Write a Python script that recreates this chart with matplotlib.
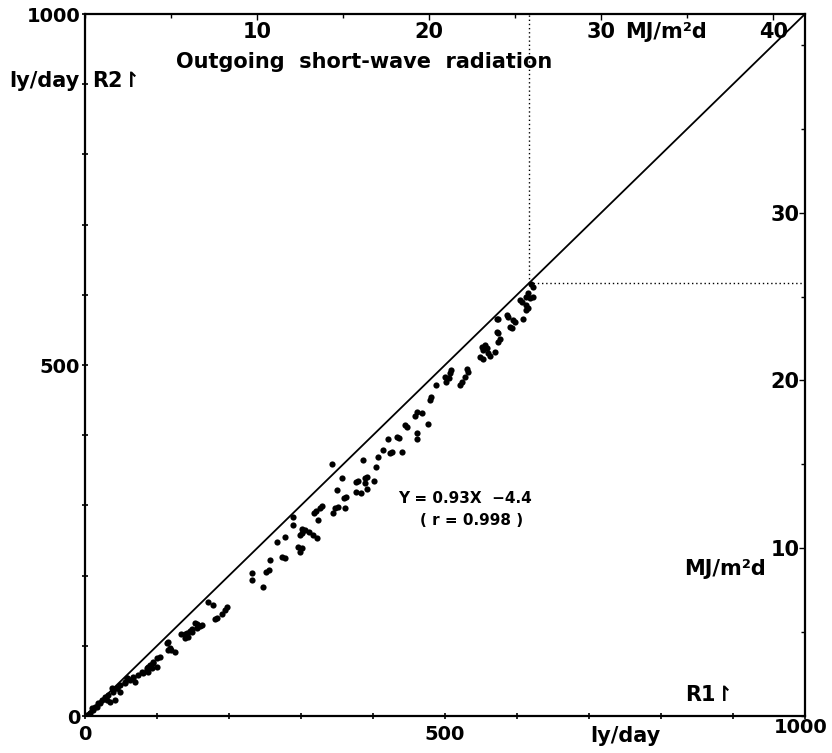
"""
Outgoing short-wave radiation: R2 against R1 (ly/day), with MJ/m2d scales
"""
import numpy as np
import matplotlib.pyplot as plt
from matplotlib.transforms import ScaledTranslation

LY_TO_MJ = 0.04184  # 1 ly/day = 0.04184 MJ/m2d

# R1 (x) and R2 (y) daily totals, ly/day
r1 = [7, 11.5, 14, 18.5, 23, 28, 32, 37, 39, 44, 48.6, 55.6, 58, 62.5, 67, 74, 78.7,
      85.6, 88, 90, 92.6, 95, 99.6, 104, 113.5, 115.7, 118, 125,
      139, 141, 143.5, 148, 152.8, 155, 162, 171, 178, 180.6, 183, 190, 194.4, 196.8,
      134, 139, 146, 148, 155, 160, 115.7, 120, 95, 99.6, 85.6, 88, 81,
      58, 55.6, 67, 69.4, 44, 39.4, 48.6, 41.7, 20.8, 30, 34.7, 16, 9.3, 3,
      231.5, 231.5, 247.7, 252, 256, 257, 266, 273, 278, 278,
      289, 289, 296, 298.6, 298.6, 301, 301, 302, 305.6, 311.5, 317, 318, 321.8,
      324, 320.8, 326, 328.7, 345, 347, 349.5, 352, 356.5, 360, 361, 362,
      342.6, 376, 377, 379.6, 384, 385.6, 389, 389, 391, 391, 401, 404, 406.5,
      414, 421, 423.6, 427, 433, 436, 440, 444, 446.8, 458, 460.6, 460.6, 460.6,
      467.6, 476.8, 479, 481, 488, 500, 502, 506, 507, 509, 521, 523, 528, 530, 532,
      548.6, 551, 553, 553, 555.6, 558.8, 560, 562.5, 569, 572, 574, 574, 576,
      572, 574, 585.6, 588, 590, 592.6, 595, 597, 604, 606.5, 609, 612.5, 613,
      613, 615.7, 615.7, 618, 620, 621.8, 622]
r2 = [3.8, 8.5, 13, 18, 22.8, 27.5, 30, 39.5, 37, 39.5, 44, 46.6, 53.6, 51, 56, 58, 63,
      65.5, 70, 72.6, 68, 77, 82, 84.5, 103.4, 94, 96.4, 91.6,
      110.7, 117.7, 113, 120, 132, 125, 129.6, 163, 158, 137.6, 139, 146, 151, 155.7,
      117, 117, 121, 123.5, 130.6, 128, 106, 94, 75, 70, 68, 63, 60.7,
      53.7, 48.9, 53.7, 48.9, 39.5, 34.6, 34.6, 22.8, 18, 22.8, 20.4, 13, 11.4, 1.5,
      203, 194, 184, 205.6, 208, 222, 248, 227, 255, 224.6,
      284, 272, 241, 257.8, 234, 267, 239, 260, 265, 262.5, 257.8, 288.7, 254,
      279, 292.5, 297, 299, 288.7, 296, 322, 298, 338.6, 310, 297, 311.5,
      359, 333.8, 319.5, 335, 317, 364.7, 338.6, 331.6, 341, 324, 335, 354, 369,
      379, 394, 375, 376.6, 397, 395.6, 376.6, 414.5, 412, 427, 433.5, 403.6, 394,
      431, 415.5, 450, 455, 471.5, 483, 476, 481, 488, 493, 471.5, 476, 483, 495, 490,
      512, 526, 509, 521, 528.5, 524, 517, 513, 519, 547, 545, 533, 536.6,
      565, 566, 571, 569, 554.6, 552, 564, 561.7, 592.6, 590, 566, 578, 597,
      585, 602, 580.6, 595, 616, 597, 611.5]

# regression and the marked maximum
fit_text = "Y = 0.93X  \u22124.4"
r_text = "( r = 0.998 )"
r_max = 617

ly_ticks = [0, 500, 1000]
mj_top_ticks = [10, 20, 30, 40]
mj_right_ticks = [10, 20, 30]

plt.rcParams['font.family'] = ['DejaVu Sans']
fig = plt.figure(figsize=(8.32, 7.53), dpi=100)
ax = fig.add_axes([85 / 832, 37 / 753, 720 / 832, 702 / 753])

ax.plot([0, 1000], [0, 1000], color='black', lw=1.3)
ax.scatter(r1, r2, s=20, color='black', lw=0, zorder=3)
ax.plot([r_max, r_max], [r_max, 1000], color='black', lw=1.0, ls=(0, (1, 2)))
ax.plot([r_max, 1000], [r_max, r_max], color='black', lw=1.0, ls=(0, (1, 2)))

ax.set_xlim(0, 1000)
ax.set_ylim(0, 1000)
for side in ax.spines.values():
    side.set_linewidth(1.6)

ax.set_xticks(ly_ticks)
ax.set_yticks(ly_ticks)
ax.set_xticks(np.arange(0, 1001, 100), minor=True)
ax.set_yticks(np.arange(0, 1001, 100), minor=True)
ax.tick_params(which='both', direction='inout', length=5, width=1.2, labelsize=14)
ax.tick_params(which='minor', length=4)
ax.tick_params(axis='x', pad=4)
ax.tick_params(axis='y', pad=1)
for lab in ax.get_xticklabels() + ax.get_yticklabels():
    lab.set_fontweight('bold')
# the last bottom label sits a little up and left so it stays on the page
last = ax.get_xticklabels()[-1]
last.set_transform(last.get_transform() + ScaledTranslation(-3 / 72, 5 / 72, fig.dpi_scale_trans))

# MJ/m2d scales on top and right, labels drawn inside the frame
to_mj = (lambda v: v * LY_TO_MJ, lambda v: v / LY_TO_MJ)
top = ax.secondary_xaxis('top', functions=to_mj)
top.set_xticks(mj_top_ticks)
top.set_xticks(np.arange(0, 42, 5), minor=True)
top.tick_params(which='both', direction='in', length=4, width=1.0, labelsize=15, pad=-20)
top.tick_params(which='minor', length=3)
right = ax.secondary_yaxis('right', functions=to_mj)
right.set_yticks(mj_right_ticks)
right.set_yticks(np.arange(0, 42, 5), minor=True)
right.tick_params(which='both', direction='in', length=4, width=1.0, labelsize=15, pad=-4)
right.tick_params(which='minor', length=3)
for lab in right.get_yticklabels():
    lab.set_ha('right')
    lab.set_fontweight('bold')
for lab in top.get_xticklabels():
    lab.set_fontweight('bold')
for s in list(top.spines.values()) + list(right.spines.values()):
    s.set_visible(False)

txt = dict(fontsize=15, fontweight='bold', color='black')
ax.text(0.3875, 0.932, "Outgoing  short-wave  radiation", transform=ax.transAxes,
        ha='center', va='center', **txt)
ax.text(-0.008, 0.905, "ly/day", transform=ax.transAxes, ha='right', va='center', **txt)
ax.text(0.01, 0.905, "R2\u21be", transform=ax.transAxes, ha='left', va='center', **txt)
ax.text(0.75, 0.975, "MJ/m\u00b2d", transform=ax.transAxes, ha='left', va='center', **txt)
ax.text(0.945, 0.21, "MJ/m\u00b2d", transform=ax.transAxes, ha='right', va='center', **txt)
ax.text(0.833, 0.03, "R1\u21be", transform=ax.transAxes, ha='left', va='center', **txt)
ax.text(0.75, -0.028, "ly/day", transform=ax.transAxes, ha='center', va='center', **txt)
ax.text(0.435, 0.31, fit_text, transform=ax.transAxes, ha='left', va='center',
        fontsize=11, fontweight='bold')
ax.text(0.465, 0.278, r_text, transform=ax.transAxes, ha='left', va='center',
        fontsize=11, fontweight='bold')

fig.savefig("out.png", dpi=100)
